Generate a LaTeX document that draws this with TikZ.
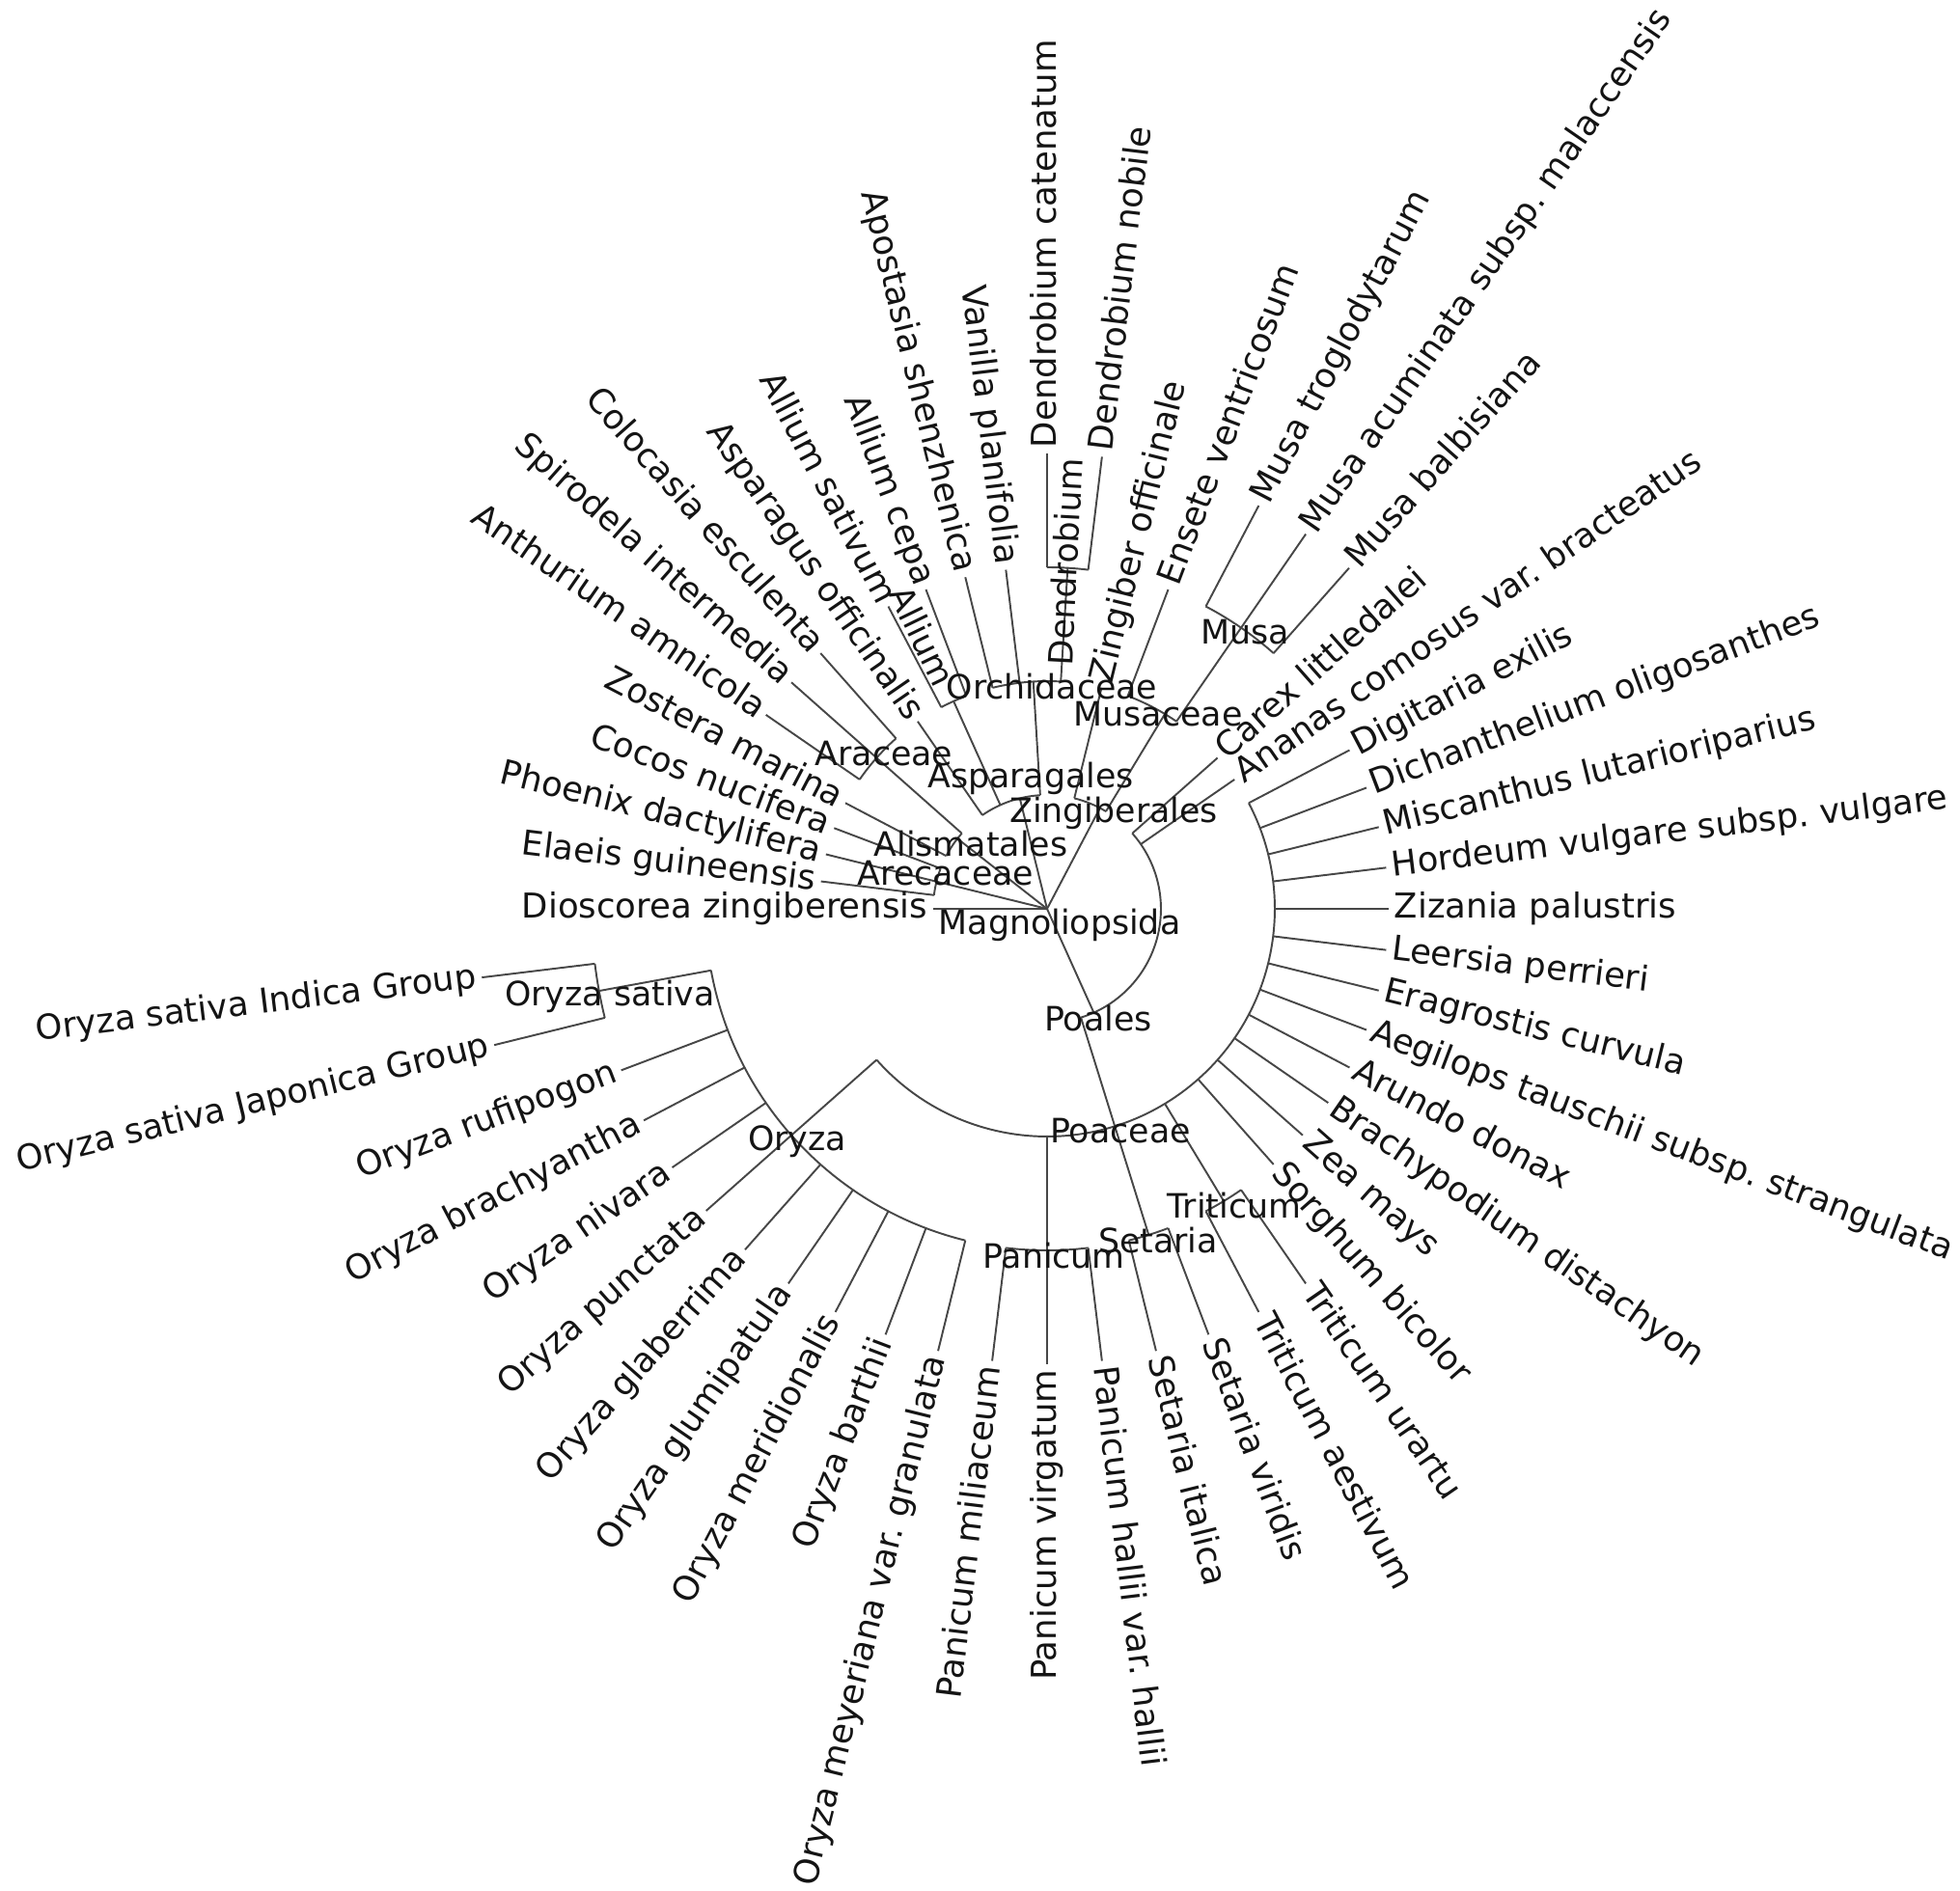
\documentclass[tikz,border=0pt]{standalone}
\usepackage{fontspec}
\setmainfont{DejaVu Sans}
\usetikzlibrary{positioning}
\newcommand{\taxfont}{\fontsize{10.1pt}{11.5pt}\selectfont}
\newcommand{\cladefont}{\fontsize{9.9pt}{11pt}\selectfont}
\newcommand{\tipstep}{6.923077}
\newcommand{\rankgap}{1.18}

\begin{document}
\begin{tikzpicture}[
  branch/.style={draw=black!72, line width=0.55pt},
  tip/.style={font=\taxfont, text=black!92, inner xsep=1.5pt, inner ysep=0pt,
    text height=7.5pt, text depth=2pt},
  clade/.style={font=\cladefont, text=black!92, inner sep=0pt}
]
  \useasboundingbox (-10.85,-10.18) rectangle (9.46,9.42);

  \coordinate (root) at (0,0);

  % internal nodes: name/slot/depth, with the radial branch into each
  \foreach \nm/\ix/\lv in {arec/24/1, alis/20.5/1, aspa/15/1, zing/9/1, poal/42.5/1,
      arac/20/2, alli/16.5/2, orch/13.5/2, musc/8.5/2, poac/41.5/2,
      dend/12.5/3, musa/8/3, oryz/32/3, pani/39/3, seta/41.5/3, trit/43.5/3,
      osat/27.5/4}
  {
    \coordinate (\nm) at ({\ix*\tipstep}:{\lv*\rankgap});
    \draw[branch] ({\ix*\tipstep}:{(\lv-1)*\rankgap}) -- (\nm);
  }

  % arcs over the children of each clade
  \foreach \sa/\sb/\lv in {23/25/1, 20/22/1, 19/21/2, 13.5/18/1, 16/17/2,
      12.5/15/2, 12/13/3, 8.5/11/1, 8/10/2, 7/9/3, 41.5/58/1, 32/56/2,
      27.5/37/3, 27/28/4, 38/40/3, 41/42/3, 43/44/3}
    \draw[branch] ({\sa*\tipstep}:{\lv*\rankgap})
      arc[start angle={\sa*\tipstep}, end angle={\sb*\tipstep}, radius={\lv*\rankgap}];

  % tips, right half
  \foreach \ix/\lv/\nm/\txt in {0/3/zpal/Zizania palustris,
      1/3/hvul/Hordeum vulgare subsp.\ vulgare,
      2/3/mlut/Miscanthus lutarioriparius,
      3/3/doli/Dichanthelium oligosanthes,
      4/3/dexi/Digitaria exilis,
      5/2/acom/Ananas comosus var.\ bracteatus,
      6/2/clit/Carex littledalei,
      7/4/mbal/Musa balbisiana,
      8/4/macu/Musa acuminata subsp.\ malaccensis,
      9/4/mtro/Musa troglodytarum,
      10/3/even/Ensete ventricosum,
      11/2/zoff/Zingiber officinale,
      12/4/dnob/Dendrobium nobile,
      13/4/dcat/Dendrobium catenatum,
      40/4/phal/Panicum hallii var.\ hallii,
      41/4/sita/Setaria italica,
      42/4/svir/Setaria viridis,
      43/4/taes/Triticum aestivum,
      44/4/tura/Triticum urartu,
      45/3/sbic/Sorghum bicolor,
      46/3/zmay/Zea mays,
      47/3/bdis/Brachypodium distachyon,
      48/3/adon/Arundo donax,
      49/3/atau/Aegilops tauschii subsp.\ strangulata,
      50/3/ecur/Eragrostis curvula,
      51/3/lper/Leersia perrieri}
  {
    \node[tip, anchor=west, rotate={\ix*\tipstep}] (\nm) at ({\ix*\tipstep}:{\lv*\rankgap}) {\txt};
    \draw[branch] ({\ix*\tipstep}:{(\lv-1)*\rankgap}) -- (\nm.west);
  }

  % tips, left half
  \foreach \ix/\lv/\nm/\txt in {14/3/vpla/Vanilla planifolia,
      15/3/ashe/Apostasia shenzhenica,
      16/3/acep/Allium cepa,
      17/3/asat/Allium sativum,
      18/2/aoff/Asparagus officinalis,
      19/3/cesc/Colocasia esculenta,
      20/3/sint/Spirodela intermedia,
      21/3/aamn/Anthurium amnicola,
      22/2/zmar/Zostera marina,
      23/2/cnuc/Cocos nucifera,
      24/2/pdac/Phoenix dactylifera,
      25/2/egui/Elaeis guineensis,
      26/1/dzin/Dioscorea zingiberensis,
      27/5/oind/Oryza sativa Indica Group,
      28/5/ojap/Oryza sativa Japonica Group,
      29/4/oruf/Oryza rufipogon,
      30/4/obra/Oryza brachyantha,
      31/4/oniv/Oryza nivara,
      32/4/opun/Oryza punctata,
      33/4/ogla/Oryza glaberrima,
      34/4/oglu/Oryza glumipatula,
      35/4/omer/Oryza meridionalis,
      36/4/obar/Oryza barthii,
      37/4/omey/Oryza meyeriana var.\ granulata,
      38/4/pmil/Panicum miliaceum,
      39/4/pvir/Panicum virgatum}
  {
    \node[tip, anchor=east, rotate={\ix*\tipstep-180}] (\nm) at ({\ix*\tipstep}:{\lv*\rankgap}) {\txt};
    \draw[branch] ({\ix*\tipstep}:{(\lv-1)*\rankgap}) -- (\nm.east);
  }

  % clade names
  \node[clade] (l-root) at (0.13,-0.17) {Magnoliopsida};
  \node[clade] (l-arec) at (-1.05,0.37) {Arecaceae};
  \node[clade] (l-alis) at (-0.79,0.67) {Alismatales};
  \node[clade] (l-arac) at (-1.69,1.61) {Araceae};
  \node[clade] (l-aspa) at (-0.17,1.35) {Asparagales};
  \node[clade, rotate=-64] (l-alli) at (114.5:3.11) {Allium};
  \node[clade] (l-orch) at (0.05,2.30) {Orchidaceae};
  \node[clade, rotate=87] (l-dend) at (87:3.60) {Dendrobium};
  \node[clade] (l-zing) at (0.69,0.99) {Zingiberales};
  \node[clade] (l-musc) at (1.15,2.02) {Musaceae};
  \node[clade] (l-musa) at (2.05,2.87) {Musa};
  \node[clade] (l-poal) at (0.53,-1.14) {Poales};
  \node[clade] (l-poac) at (0.76,-2.30) {Poaceae};
  \node[clade] (l-oryz) at (-2.59,-2.41) {Oryza};
  \node[clade] (l-osat) at (-4.53,-0.91) {Oryza sativa};
  \node[clade] (l-pani) at (0.07,-3.60) {Panicum};
  \node[clade] (l-seta) at (1.15,-3.44) {Setaria};
  \node[clade] (l-trit) at (1.94,-3.08) {Triticum};
\end{tikzpicture}
\end{document}
